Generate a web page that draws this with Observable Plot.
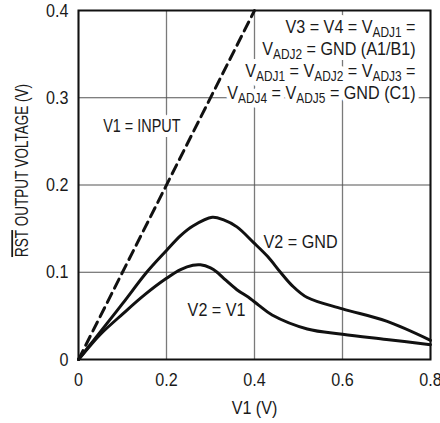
<!DOCTYPE html>
<html>
<head>
<meta charset="utf-8">
<script src="https://cdn.jsdelivr.net/npm/d3@7"></script>
<script src="https://cdn.jsdelivr.net/npm/@observablehq/plot@0.6"></script>
<style>
  html, body { margin: 0; padding: 0; background: #fff; }
  svg { display: block; }
</style>
</head>
<body>
<div id="chart"></div>
<script>
// ---- data ----
const xTicks = [0, 0.2, 0.4, 0.6, 0.8];
const yTicks = [0, 0.1, 0.2, 0.3, 0.4];

const inputX = [0, 0.4];
const inputY = [0, 0.4];

const gndX = [0, 0.025, 0.05, 0.1, 0.155, 0.2, 0.232, 0.26, 0.304, 0.33, 0.36, 0.398, 0.43, 0.459, 0.485, 0.52, 0.6, 0.7, 0.8];
const gndY = [0, 0.016, 0.032, 0.064, 0.1, 0.125, 0.142, 0.153, 0.163, 0.16, 0.152, 0.134, 0.118, 0.1, 0.085, 0.071, 0.058, 0.044, 0.022];

const v1X = [0, 0.025, 0.05, 0.1, 0.15, 0.2, 0.232, 0.26, 0.277, 0.3, 0.315, 0.33, 0.36, 0.39, 0.41, 0.44, 0.52, 0.6, 0.7, 0.8];
const v1Y = [0, 0.015, 0.029, 0.052, 0.074, 0.093, 0.103, 0.108, 0.1085, 0.105, 0.1, 0.093, 0.08, 0.07, 0.062, 0.051, 0.035, 0.029, 0.023, 0.017];

// annotation text segments: [text, kind]
const noteLines = [
  [["V3 = V4 = V", ""], ["ADJ1", "sub"], [" =", ""]],
  [["V", ""], ["ADJ2", "sub"], [" = GND (A1/B1)", ""]],
  [["V", ""], ["ADJ1", "sub"], [" = V", ""], ["ADJ2", "sub"], [" = V", ""], ["ADJ3", "sub"], [" =", ""]],
  [["V", ""], ["ADJ4", "sub"], [" = V", ""], ["ADJ5", "sub"], [" = GND (C1)", ""]]
];
const curveLabels = ["V1 = INPUT", "V2 = GND", "V2 = V1"];
const yLabelSegs = [["RST", "over"], [" OUTPUT VOLTAGE (V)", ""]];
const xLabel = "V1 (V)";

// ---- tables ----
const plain = segs => segs.map(s => s[0]).join("");
const toRows = (xs, ys) => xs.map((x, i) => ({x, y: ys[i]}));
const inputRows = toRows(inputX, inputY);
const gndRows = toRows(gndX, gndY);
const v1Rows = toRows(v1X, v1Y);

const noteRows = noteLines.map((segs, i) => ({
  text: plain(segs),
  x: 0.766,
  y: [0.374, 0.349, 0.324, 0.299][i]
}));
const curveLabelRows = [
  {text: curveLabels[0], x: 0.232, y: 0.261},
  {text: curveLabels[1], x: 0.4205, y: 0.128},
  {text: curveLabels[2], x: 0.248, y: 0.0504}
];

const FONT = "'Liberation Sans', Arial, Helvetica, sans-serif";
const INK = "#1a1a1a";

const chart = Plot.plot({
  width: 440,
  height: 423,
  marginLeft: 78,
  marginRight: 10,
  marginTop: 10,
  marginBottom: 64,
  style: {fontFamily: FONT, fontSize: "19px", color: INK, background: "#fff", overflow: "visible"},
  x: {domain: [0, 0.8], axis: null},
  y: {domain: [0, 0.4], axis: null},
  marks: [
    Plot.gridX(xTicks, {stroke: "#7a7a7a", strokeOpacity: 1, strokeWidth: 1.3}),
    Plot.gridY(yTicks, {stroke: "#555", strokeOpacity: 1, strokeWidth: 1.1}),
    Plot.text(noteRows, {
      x: "x", y: "y", text: "text", textAnchor: "end", lineAnchor: "bottom",
      fill: INK, stroke: "white", strokeWidth: 10
    }),
    Plot.text(curveLabelRows.slice(0, 1), {
      x: "x", y: "y", text: "text", textAnchor: "end", lineAnchor: "bottom",
      fill: INK, stroke: "white", strokeWidth: 10
    }),
    Plot.text(curveLabelRows.slice(1), {
      x: "x", y: "y", text: "text", textAnchor: "start", lineAnchor: "bottom",
      fill: INK
    }),
    Plot.line(inputRows, {x: "x", y: "y", stroke: "#111", strokeWidth: 3, strokeDasharray: "10,6"}),
    Plot.line(gndRows, {x: "x", y: "y", stroke: "#111", strokeWidth: 3, curve: "catmull-rom"}),
    Plot.line(v1Rows, {x: "x", y: "y", stroke: "#111", strokeWidth: 3, curve: "catmull-rom"}),
    Plot.frame({stroke: "#111", strokeWidth: 2}),
    Plot.axisX(xTicks, {tickSize: 0, tickPadding: 13, fill: INK, label: null, tickFormat: d => String(d)}),
    Plot.axisY(yTicks, {tickSize: 0, tickPadding: 10, fill: INK, label: null, tickFormat: d => String(d)}),
    Plot.text([xLabel], {
      frameAnchor: "bottom", text: d => d, lineAnchor: "bottom", dy: 54, fill: INK
    }),
    Plot.text([plain(yLabelSegs)], {
      frameAnchor: "left", text: d => d, rotate: -90, textAnchor: "middle", lineAnchor: "middle",
      dx: -56, dy: -14.5, fill: INK, fontSize: 18
    })
  ]
});

// rich text (subscripts / overline) and narrow (condensed) glyphs
const rich = new Map();
noteLines.forEach(segs => rich.set(plain(segs), segs));
rich.set(plain(yLabelSegs), yLabelSegs);
const narrow = new Map([[plain(yLabelSegs), 0.75], [curveLabels[0], 0.76]]);

d3.select(chart).selectAll("text").each(function() {
  const t = d3.select(this);
  const content = this.textContent;
  const segs = rich.get(content);
  if (segs) {
    t.text(null);
    let shift = 0;
    for (const [s, kind] of segs) {
      const ts = t.append("tspan").text(s);
      if (kind === "sub") {
        ts.attr("dy", 4 - shift).attr("font-size", 14);
        shift = 4;
      } else {
        if (shift) ts.attr("dy", -shift);
        shift = 0;
      }
      if (kind === "over") ts.style("text-decoration", "overline");
    }
  }
  const sx = narrow.get(content) ?? 0.85;
  const tr = this.getAttribute("transform") || "";
  this.setAttribute("transform", (tr + ` scale(${sx},1)`).trim());
});

document.getElementById("chart").appendChild(chart);
</script>
</body>
</html>
